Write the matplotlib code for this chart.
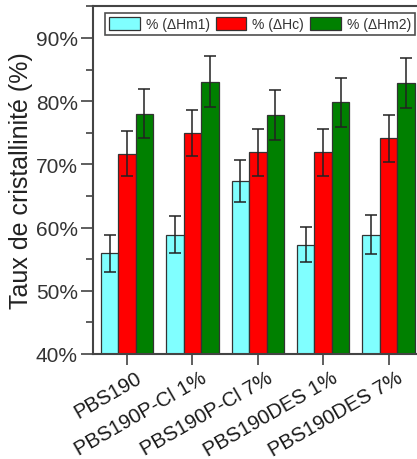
import matplotlib
matplotlib.use("Agg")
import matplotlib.pyplot as plt
import numpy as np
from matplotlib.transforms import ScaledTranslation
from matplotlib.ticker import MultipleLocator, FuncFormatter

categories = ["PBS190", "PBS190P-Cl 1%", "PBS190P-Cl 7%", "PBS190DES 1%", "PBS190DES 7%"]
series_names = ["% (\u0394Hm1)", "% (\u0394Hc)", "% (\u0394Hm2)"]
hm1 = [55.9, 58.9, 67.4, 57.3, 58.9]
hm1_err = [2.9, 2.9, 3.3, 2.8, 3.1]
hc = [71.7, 75.0, 71.9, 71.9, 74.1]
hc_err = [3.5, 3.6, 3.7, 3.7, 3.7]
hm2 = [78.0, 83.1, 77.8, 79.8, 82.9]
hm2_err = [3.9, 4.1, 3.9, 3.9, 4.0]

colors = ["#80FFFF", "#FF0000", "#008000"]

plt.rcParams['font.family'] = ['Liberation Sans', 'DejaVu Sans']

fig = plt.figure(figsize=(4.17, 4.60), dpi=100)
ax = fig.add_axes([93/417, 1-355/460, (420-93)/417, (355-7)/460])

x = np.arange(len(categories))
w = 0.267
vals = [hm1, hc, hm2]
errs = [hm1_err, hc_err, hm2_err]
for i in range(3):
    ax.bar(x + (i-1)*w, vals[i], w, color=colors[i], edgecolor="#333333",
           linewidth=0.9, label=series_names[i], zorder=2)
    ax.errorbar(x + (i-1)*w, vals[i], yerr=errs[i], fmt='none', ecolor="#222222",
                elinewidth=1.1, capsize=4.5, capthick=1.1, zorder=3)

ax.set_ylim(40, 95.05)
ax.set_xlim(-0.52, 4.48)
ax.yaxis.set_major_locator(MultipleLocator(10))
ax.yaxis.set_minor_locator(MultipleLocator(5))
ax.yaxis.set_major_formatter(FuncFormatter(lambda v, p: f"{int(round(v))}%"))
ax.tick_params(axis='y', which='major', direction='out', length=9, width=1.1,
               labelsize=15, labelcolor="#333333", color="#333333", pad=2,
               right=True)
ax.tick_params(axis='y', which='minor', direction='out', length=5, width=1.1,
               color="#333333", right=True)
ax.set_xticks(x)
ax.set_xticklabels(categories)
ax.tick_params(axis='x', direction='out', length=8, width=1.1, color="#333333",
               labelsize=14.6, labelcolor="#1a1a1a", pad=1)
for lab in ax.get_xticklabels():
    lab.set_rotation(30)
    lab.set_ha('right')
    lab.set_va('top')
    lab.set_rotation_mode('anchor')
    lab.set_transform(lab.get_transform() + ScaledTranslation(8/100, -1/100, fig.dpi_scale_trans))

for s in ax.spines.values():
    s.set_linewidth(1.5)
    s.set_color("#444444")

ax.set_ylabel("Taux de cristallinité (%)", fontsize=18, color="#222222", labelpad=2)

leg = ax.legend(loc='upper left', ncol=3, frameon=True, fontsize=10, handlelength=2.2,
                handleheight=1.0, handletextpad=0.42, columnspacing=0.45, borderpad=0.3,
                borderaxespad=0, fancybox=False, edgecolor="#222222",
                bbox_to_anchor=(105/417, 1-14/460), bbox_transform=fig.transFigure)
for t in leg.get_texts():
    t.set_color("#333333")
leg.get_frame().set_linewidth(1.2)

fig.savefig("out.png", dpi=100)
